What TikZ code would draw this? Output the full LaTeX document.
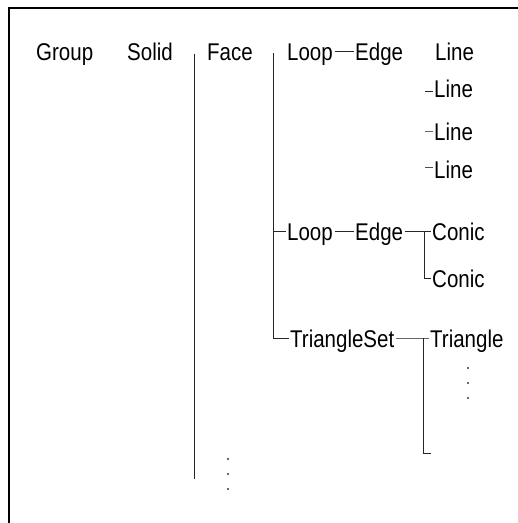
\documentclass[tikz,border=0pt]{standalone}
\usepackage{graphicx}
\usepackage{fontspec}
\setmainfont{Liberation Sans}
% labels are set slightly taller than the font's natural proportions
\newcommand{\tallword}[1]{\scalebox{1}[1.18]{#1}}
\begin{document}
\begin{tikzpicture}[x=1pt,y=-1pt,
  lbl/.style={anchor=base west, inner xsep=1.5pt, inner ysep=0pt,
    text height=18pt, text depth=0pt, font=\fontsize{20.5}{24}\selectfont},
  link/.style={draw=black!85, line width=0.9pt},
  frame/.style={draw=black, line width=2pt},
  dot/.style={fill=black!80}]
\useasboundingbox (0,0) rectangle (518,523);

% outer frame (left and top edges only)
\draw[frame] (9.3,523) -- (9.3,7.7) -- (518,7.7);

% labels
\node[lbl] (group) at (34.5,60) {\tallword{Group}};
\node[lbl] (solid) at (125.5,60) {\tallword{Solid}};
\node[lbl] (face)  at (205.5,60) {\tallword{Face}};
\node[lbl] (loopA) at (285.5,60) {\tallword{Loop}};
\node[lbl] (edgeA) at (353.5,60) {\tallword{Edge}};
\node[lbl] (lineA) at (433.5,60) {\tallword{Line}};
\node[lbl] (lineB) at (432.5,97) {\tallword{Line}};
\node[lbl] (lineC) at (432.5,140) {\tallword{Line}};
\node[lbl] (lineD) at (432.5,178) {\tallword{Line}};
\node[lbl] (loopB) at (285.5,240) {\tallword{Loop}};
\node[lbl] (edgeB) at (353.5,240) {\tallword{Edge}};
\node[lbl] (conicA) at (430.5,240) {\tallword{Conic}};
\node[lbl] (conicB) at (430.5,287) {\tallword{Conic}};
\node[lbl] (tset)  at (288.5,347) {\tallword{TriangleSet}};
\node[lbl] (tri)   at (428.5,347) {\tallword{Triangle}};

% helper coordinates for the tree rails
\coordinate (v1top) at (194,54);
\coordinate (v1bot) at (194,479);
\coordinate (v2top) at (273,53);
\coordinate (cj) at (424,0);
\coordinate (tj) at (423,0);
\coordinate (tend) at (431,453);
\coordinate (lx) at (425,0);

% Face rail
\draw[link] (v1top) -- (v1bot);

% Loop / TriangleSet rail
\draw[link] (v2top) |- (tset.west);
\draw[link] (loopB.west -| v2top) -- (loopB.west);

% Loop -- Edge
\draw[link] (loopA) -- (edgeA);
\draw[link] (loopB) -- (edgeB);

% Edge -- Conic branches
\draw[link] (edgeB.east) -- (conicA.west);
\draw[link] (conicA.west -| cj) |- (conicB.west);

% TriangleSet -- Triangle branch
\draw[link, draw=black!60] (tset.east) -- (tri.west);
\draw[link] (tri.west -| tj) |- (tend);

% short ticks in front of the Line entries
\draw[link] ([yshift=-3pt]lineB.west -| lx) -- ([yshift=-3pt]lineB.west);
\draw[link, draw=black!60] (lineC.west -| lx) -- (lineC.west);
\draw[link, draw=black!70] ([yshift=2pt]lineD.west -| lx) -- ([yshift=2pt]lineD.west);

% continuation dots
\foreach \yy in {459,474,489} \fill[dot] (228,\yy) circle (1.2pt);
\foreach \yy in {368,383,398} \fill[dot] (468,\yy) circle (1.2pt);
\end{tikzpicture}
\end{document}
